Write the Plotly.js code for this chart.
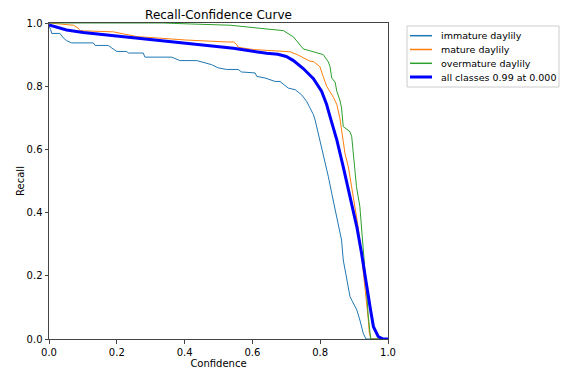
<!DOCTYPE html>
<html>
<head>
<meta charset="utf-8">
<script src="https://cdn.plot.ly/plotly-3.0.1.min.js"></script>
<style>html,body{margin:0;padding:0;background:#fff;}#chart{width:563px;height:370px;}</style>
</head>
<body>
<div id="chart"></div>
<script>
const seriesNames = ["immature daylily", "mature daylily", "overmature daylily", "all classes 0.99 at 0.000"];

const immatureX = [0.000,0.005,0.008,0.032,0.042,0.052,0.067,0.131,0.136,0.175,0.185,0.200,0.229,0.234,0.278,0.283,0.362,0.386,0.436,0.480,0.499,0.524,0.558,0.568,0.608,0.613,0.637,0.667,0.681,0.706,0.726,0.745,0.760,0.770,0.780,0.785,0.794,0.804,0.814,0.824,0.834,0.844,0.853,0.863,0.868,0.878,0.888,0.893,0.908,0.917,0.927,0.935,1.000];
const immatureY = [0.990,0.979,0.967,0.967,0.953,0.944,0.937,0.937,0.929,0.929,0.921,0.910,0.910,0.905,0.905,0.892,0.892,0.881,0.881,0.868,0.858,0.853,0.853,0.845,0.842,0.831,0.826,0.815,0.815,0.794,0.789,0.773,0.752,0.731,0.710,0.693,0.651,0.609,0.566,0.514,0.461,0.408,0.355,0.313,0.250,0.187,0.134,0.123,0.092,0.060,0.018,0.000,0.000];

const matureX = [0.000,0.072,0.086,0.091,0.106,0.190,0.259,0.406,0.524,0.544,0.554,0.558,0.603,0.652,0.691,0.711,0.734,0.770,0.780,0.799,0.809,0.819,0.839,0.849,0.858,0.863,0.873,0.883,0.893,0.903,0.912,0.922,0.932,0.939,0.942,0.945,0.950,1.000];
const matureY = [1.000,0.993,0.984,0.976,0.975,0.972,0.957,0.946,0.940,0.940,0.932,0.923,0.916,0.912,0.910,0.909,0.899,0.879,0.878,0.862,0.830,0.800,0.765,0.742,0.699,0.661,0.588,0.545,0.482,0.419,0.355,0.266,0.171,0.102,0.060,0.018,0.000,0.000];

const overmatureX = [0.000,0.337,0.416,0.534,0.652,0.691,0.721,0.750,0.809,0.824,0.829,0.834,0.844,0.849,0.858,0.863,0.868,0.888,0.893,0.898,0.907,0.917,0.922,0.927,0.935,0.942,0.949,1.000];
const overmatureY = [1.000,1.000,0.997,0.993,0.980,0.976,0.956,0.918,0.900,0.877,0.862,0.826,0.813,0.784,0.756,0.731,0.672,0.656,0.640,0.577,0.482,0.419,0.355,0.282,0.176,0.070,0.000,0.000];

const allX = [0.000,0.052,0.101,0.200,0.298,0.406,0.544,0.642,0.675,0.700,0.721,0.750,0.780,0.804,0.819,0.829,0.849,0.868,0.888,0.908,0.922,0.935,0.947,0.957,0.971,0.986,1.000];
const allY = [0.994,0.978,0.970,0.959,0.946,0.936,0.920,0.904,0.901,0.894,0.881,0.856,0.824,0.784,0.742,0.704,0.630,0.545,0.450,0.355,0.271,0.176,0.102,0.039,0.008,0.000,0.000];

const xTicks = [0, 0.2, 0.4, 0.6, 0.8, 1.0];
const xTickText = ["0.0", "0.2", "0.4", "0.6", "0.8", "1.0"];
const yTicks = [0, 0.2, 0.4, 0.6, 0.8, 1.0];
const yTickText = ["0.0", "0.2", "0.4", "0.6", "0.8", "1.0"];

const colors = ["#1f77b4", "#ff7f0e", "#2ca02c", "#0000ff"];
const widths = [1, 1, 1, 3];

const xs = [immatureX, matureX, overmatureX, allX];
const ys = [immatureY, matureY, overmatureY, allY];
const traces = seriesNames.map((n, i) => ({
  x: xs[i], y: ys[i], name: n, mode: "lines", line: {color: colors[i], width: widths[i]}, showlegend: false
}));

// plot area geometry (px) for placing the legend box outside the axes
const M = {l: 49, r: 175, t: 23, b: 31};
const W = 563, H = 370;
const pw = W - M.l - M.r, ph = H - M.t - M.b;
const px2x = p => (p - M.l) / pw;
const py2y = p => (H - M.b - p) / ph;

const shapes = [{
  type: "rect", xref: "paper", yref: "paper",
  x0: px2x(407), x1: px2x(559), y0: py2y(87), y1: py2y(26),
  line: {color: "#cccccc", width: 1}, fillcolor: "rgba(255,255,255,0.8)", layer: "above"
}];
const annotations = [];
const rowY = [35.7, 49.5, 63.3, 77.0];
seriesNames.forEach((n, i) => {
  shapes.push({type: "line", xref: "paper", yref: "paper",
    x0: px2x(410), x1: px2x(432), y0: py2y(rowY[i]), y1: py2y(rowY[i]),
    line: {color: colors[i], width: i === 3 ? 3 : 1.5}, layer: "above"});
  annotations.push({xref: "paper", yref: "paper", x: px2x(439), y: py2y(rowY[i]),
    xanchor: "left", yanchor: "middle", showarrow: false, text: n,
    font: {family: "DejaVu Sans", size: 9.5, color: "#000"}});
});

const axisCommon = {
  showgrid: false, zeroline: false, showline: true, mirror: true,
  linecolor: "#444444", linewidth: 1,
  ticks: "outside", ticklen: 3.5, tickwidth: 1, tickcolor: "#444444",
  tickfont: {family: "DejaVu Sans", size: 10, color: "#000"}
};

const layout = {
  width: W, height: H,
  margin: {l: M.l, r: M.r, t: M.t, b: M.b, pad: 0, autoexpand: false},
  paper_bgcolor: "#fff", plot_bgcolor: "#fff",
  font: {family: "DejaVu Sans", size: 10, color: "#000"},
  title: {text: "Recall-Confidence Curve", font: {family: "DejaVu Sans", size: 12, color: "#000"},
          x: 0.5, xref: "paper", xanchor: "center", y: 1, yref: "paper", yanchor: "bottom", pad: {b: 4}},
  xaxis: Object.assign({}, axisCommon, {range: [0, 1], tickvals: xTicks, ticktext: xTickText, automargin: false,
          title: {text: "Confidence", font: {family: "DejaVu Sans", size: 10, color: "#000"}, standoff: 2}}),
  yaxis: Object.assign({}, axisCommon, {range: [0, 1], tickvals: yTicks, ticktext: yTickText, automargin: false,
          title: {text: "Recall", font: {family: "DejaVu Sans", size: 10, color: "#000"}, standoff: 0}}),
  showlegend: false,
  shapes: shapes,
  annotations: annotations
};

Plotly.newPlot("chart", traces, layout, {displayModeBar: false, staticPlot: true});
</script>
</body>
</html>
